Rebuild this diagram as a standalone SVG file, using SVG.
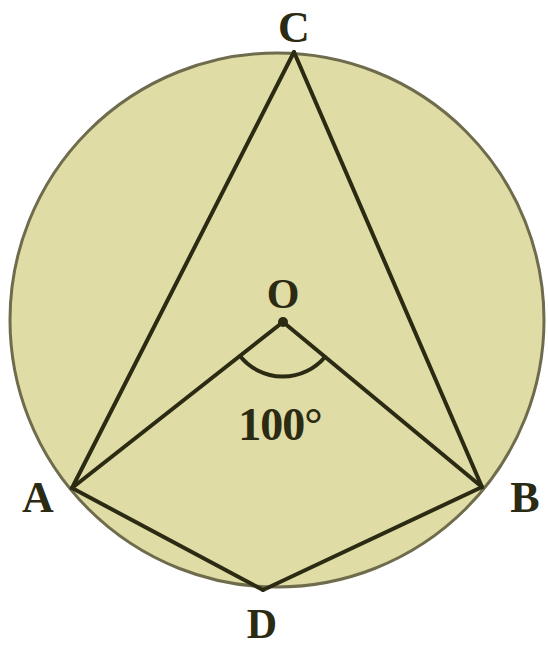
<svg xmlns="http://www.w3.org/2000/svg" width="548" height="649" viewBox="0 0 548 649">
<style>
.ln{stroke:#2b2a12;stroke-width:4;fill:none;stroke-linecap:round;stroke-linejoin:round}
.lb{font-family:"Liberation Serif","DejaVu Serif",serif;font-weight:bold;fill:#2b2a12}
</style>
<rect width="548" height="649" fill="#ffffff"/>
<g id="circle">
<circle cx="277" cy="320" r="267" fill="#e0dca5" stroke="#6e6c4c" stroke-width="3"/>
</g>
<g id="connectors">
<line class="ln" x1="294" y1="52" x2="72" y2="488"/>
<line class="ln" x1="294" y1="52" x2="482" y2="487"/>
<line class="ln" x1="283" y1="322" x2="72" y2="488"/>
<line class="ln" x1="283" y1="322" x2="482" y2="487"/>
<line class="ln" x1="72" y1="488" x2="263" y2="590"/>
<line class="ln" x1="482" y1="487" x2="263" y2="590"/>
<path class="ln" d="M240 356 A55 55 0 0 0 325 357" stroke-width="3"/>
</g>
<g id="O"><circle cx="283" cy="322" r="5" fill="#2b2a12"/><text class="lb" x="283" y="308" font-size="42" text-anchor="middle">O</text></g>
<g id="C"><text class="lb" x="294" y="42" font-size="44" text-anchor="middle">C</text></g>
<g id="A"><text class="lb" x="38" y="512" font-size="44" text-anchor="middle">A</text></g>
<g id="B"><text class="lb" x="525" y="512" font-size="44" text-anchor="middle">B</text></g>
<g id="D"><text class="lb" x="262" y="638" font-size="42" text-anchor="middle">D</text></g>
<g id="angle"><text class="lb" x="280" y="440" font-size="46" text-anchor="middle" letter-spacing="-1">100°</text></g>
</svg>
